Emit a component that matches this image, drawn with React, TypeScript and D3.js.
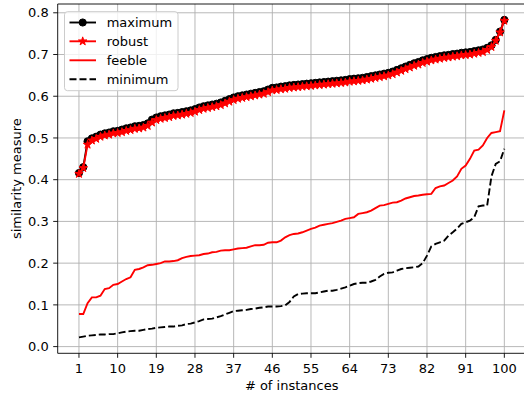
import React from 'react';
import * as d3 from 'd3';

const instances: number[] = d3.range(1, 101);
const xTicks = [1, 10, 19, 28, 37, 46, 55, 64, 73, 82, 91, 100];
const yTicks = [0, 0.1, 0.2, 0.3, 0.4, 0.5, 0.6, 0.7, 0.8];
const yTickLabels = ['0.0', '0.1', '0.2', '0.3', '0.4', '0.5', '0.6', '0.7', '0.8'];

const maximum = [
  0.416, 0.430, 0.492, 0.499, 0.503, 0.508, 0.511, 0.513, 0.516, 0.517,
  0.520, 0.523, 0.525, 0.528, 0.529, 0.531, 0.535, 0.544, 0.549, 0.552,
  0.554, 0.556, 0.559, 0.560, 0.562, 0.564, 0.566, 0.569, 0.573, 0.576,
  0.578, 0.580, 0.582, 0.585, 0.589, 0.593, 0.597, 0.600, 0.602, 0.604,
  0.606, 0.608, 0.610, 0.612, 0.616, 0.620, 0.621, 0.623, 0.624, 0.626,
  0.627, 0.628, 0.629, 0.630, 0.631, 0.632, 0.633, 0.634, 0.635, 0.636,
  0.637, 0.638, 0.639, 0.641, 0.642, 0.643, 0.644, 0.646, 0.648, 0.650,
  0.652, 0.654, 0.656, 0.659, 0.663, 0.667, 0.671, 0.675, 0.679, 0.682,
  0.686, 0.689, 0.692, 0.694, 0.696, 0.698, 0.699, 0.701, 0.702, 0.704,
  0.705, 0.706, 0.708, 0.710, 0.712, 0.716, 0.722, 0.735, 0.755, 0.783,
];

const robust = [
  0.414, 0.428, 0.484, 0.494, 0.498, 0.503, 0.506, 0.508, 0.511, 0.512,
  0.514, 0.517, 0.519, 0.522, 0.523, 0.525, 0.529, 0.537, 0.543, 0.546,
  0.548, 0.550, 0.553, 0.554, 0.556, 0.558, 0.560, 0.563, 0.567, 0.570,
  0.572, 0.574, 0.576, 0.579, 0.583, 0.587, 0.591, 0.594, 0.596, 0.598,
  0.600, 0.602, 0.604, 0.606, 0.610, 0.614, 0.615, 0.617, 0.618, 0.620,
  0.621, 0.622, 0.623, 0.624, 0.625, 0.626, 0.627, 0.628, 0.629, 0.630,
  0.631, 0.632, 0.633, 0.635, 0.636, 0.637, 0.638, 0.640, 0.642, 0.644,
  0.646, 0.648, 0.650, 0.653, 0.657, 0.661, 0.665, 0.669, 0.673, 0.676,
  0.680, 0.683, 0.686, 0.688, 0.690, 0.692, 0.693, 0.695, 0.696, 0.698,
  0.699, 0.700, 0.702, 0.704, 0.706, 0.711, 0.718, 0.733, 0.753, 0.781,
];

const feeble = [
  0.078, 0.078, 0.104, 0.118, 0.118, 0.122, 0.138, 0.140, 0.148, 0.150,
  0.156, 0.162, 0.166, 0.184, 0.186, 0.190, 0.195, 0.196, 0.198, 0.200,
  0.204, 0.204, 0.205, 0.207, 0.212, 0.215, 0.217, 0.218, 0.219, 0.222,
  0.223, 0.226, 0.227, 0.230, 0.231, 0.231, 0.233, 0.235, 0.236, 0.237,
  0.240, 0.243, 0.243, 0.244, 0.249, 0.250, 0.250, 0.254, 0.262, 0.267,
  0.270, 0.271, 0.274, 0.278, 0.282, 0.285, 0.290, 0.292, 0.294, 0.296,
  0.299, 0.302, 0.306, 0.308, 0.310, 0.318, 0.320, 0.322, 0.326, 0.332,
  0.338, 0.339, 0.342, 0.345, 0.346, 0.350, 0.355, 0.358, 0.361, 0.362,
  0.364, 0.365, 0.366, 0.380, 0.384, 0.386, 0.392, 0.398, 0.408, 0.426,
  0.434, 0.450, 0.470, 0.472, 0.482, 0.500, 0.512, 0.514, 0.516, 0.566,
];

const minimum = [
  0.022, 0.024, 0.026, 0.027, 0.028, 0.029, 0.029, 0.030, 0.030, 0.032,
  0.034, 0.036, 0.037, 0.038, 0.038, 0.040, 0.042, 0.043, 0.045, 0.046,
  0.047, 0.048, 0.048, 0.050, 0.051, 0.054, 0.055, 0.058, 0.061, 0.065,
  0.066, 0.067, 0.070, 0.073, 0.077, 0.081, 0.085, 0.086, 0.087, 0.088,
  0.090, 0.091, 0.093, 0.094, 0.096, 0.096, 0.096, 0.097, 0.099, 0.107,
  0.120, 0.126, 0.127, 0.128, 0.128, 0.128, 0.130, 0.132, 0.134, 0.134,
  0.136, 0.139, 0.142, 0.146, 0.150, 0.152, 0.153, 0.153, 0.156, 0.160,
  0.168, 0.174, 0.177, 0.178, 0.182, 0.186, 0.188, 0.189, 0.190, 0.192,
  0.200, 0.218, 0.240, 0.246, 0.250, 0.254, 0.266, 0.274, 0.283, 0.294,
  0.298, 0.302, 0.310, 0.336, 0.338, 0.338, 0.408, 0.438, 0.444, 0.474,
];

const W = 524;
const H = 395;
const M = { left: 57.7, right: 525.6, top: 4, bottom: 353.3 };
const FONT = "'DejaVu Sans', sans-serif";
const FS = 13;

export default function App() {
  const allVals = [...maximum, ...robust, ...feeble, ...minimum];
  const [ymin, ymax] = d3.extent(allVals) as [number, number];
  const yPad = (ymax - ymin) * 0.05;
  const xPad = (100 - 1) * 0.05;

  const x = d3.scaleLinear().domain([1 - xPad, 100 + xPad]).range([M.left, M.right]);
  const y = d3.scaleLinear().domain([ymin - yPad, ymax + yPad]).range([M.bottom, M.top]);

  const line = (vals: number[]) =>
    d3.line<number>().x((_, i) => x(instances[i])).y((d) => y(d))(vals) || '';

  const circle = d3.symbol(d3.symbolCircle, Math.PI * 3.6 * 3.6)() || '';
  const star = d3.symbol(d3.symbolStar, 22)() || '';

  const lw = 1.9;

  const legendItems = [
    { label: 'maximum', color: '#000000', dash: '', marker: 'circle' },
    { label: 'robust', color: '#ff0000', dash: '', marker: 'star' },
    { label: 'feeble', color: '#ff0000', dash: '', marker: '' },
    { label: 'minimum', color: '#000000', dash: '7,3', marker: '' },
  ];
  const legRowY = [22.5, 41.3, 60.3, 79.2];

  return (
    <svg
      width={W}
      height={H}
      style={{ position: 'absolute', left: 0, top: 0, background: '#ffffff' }}
      fontFamily={FONT}
    >
      <rect x={0} y={0} width={W} height={H} fill="#ffffff" />
      <defs>
        <clipPath id="plotclip">
          <rect x={M.left} y={M.top} width={M.right - M.left} height={M.bottom - M.top} />
        </clipPath>
      </defs>
      {/* grid */}
      <g stroke="#b0b0b0" strokeWidth={0.9}>
        {xTicks.map((t) => (
          <line key={'gx' + t} x1={x(t)} x2={x(t)} y1={M.top} y2={M.bottom} />
        ))}
        {yTicks.map((t) => (
          <line key={'gy' + t} x1={M.left} x2={M.right} y1={y(t)} y2={y(t)} />
        ))}
      </g>
      {/* series */}
      <g clipPath="url(#plotclip)">
        <path d={line(maximum)} fill="none" stroke="#000000" strokeWidth={lw} />
        {maximum.map((v, i) => (
          <path key={'mc' + i} d={circle} transform={`translate(${x(instances[i])},${y(v)})`} fill="#000000" stroke="#000000" strokeWidth={1} />
        ))}
        <path d={line(robust)} fill="none" stroke="#ff0000" strokeWidth={lw} />
        {robust.map((v, i) => (
          <path key={'rs' + i} d={star} transform={`translate(${x(instances[i])},${y(v)})`} fill="#ff0000" stroke="#ff0000" strokeWidth={1} />
        ))}
        <path d={line(feeble)} fill="none" stroke="#ff0000" strokeWidth={lw} />
        <path d={line(minimum)} fill="none" stroke="#000000" strokeWidth={lw} strokeDasharray="7,3" />
      </g>
      {/* spines */}
      <g stroke="#000000" strokeWidth={0.9} fill="none">
        <line x1={M.left} x2={M.left} y1={M.top} y2={M.bottom} />
        <line x1={M.left} x2={M.right} y1={M.bottom} y2={M.bottom} />
        <line x1={M.left} x2={M.right} y1={M.top} y2={M.top} />
        <line x1={M.right} x2={M.right} y1={M.top} y2={M.bottom} />
      </g>
      {/* x ticks */}
      <g>
        {xTicks.map((t) => (
          <g key={'xt' + t}>
            <line x1={x(t)} x2={x(t)} y1={M.bottom} y2={M.bottom + 4.5} stroke="#000" strokeWidth={0.9} />
            <text x={x(t)} y={372.7} textAnchor="middle" fontSize={FS} fill="#000">
              {t}
            </text>
          </g>
        ))}
      </g>
      {/* y ticks */}
      <g>
        {yTicks.map((t, i) => (
          <g key={'yt' + t}>
            <line x1={M.left - 4.5} x2={M.left} y1={y(t)} y2={y(t)} stroke="#000" strokeWidth={0.9} />
            <text x={M.left - 9} y={y(t) + 4.7} textAnchor="end" fontSize={FS} fill="#000">
              {yTickLabels[i]}
            </text>
          </g>
        ))}
      </g>
      {/* axis labels */}
      <text x={(M.left + M.right) / 2} y={389.5} textAnchor="middle" fontSize={FS} fill="#000">
        # of instances
      </text>
      <text
        transform={`translate(20.5,${(M.top + M.bottom) / 2}) rotate(-90)`}
        textAnchor="middle"
        fontSize={FS}
        fill="#000"
      >
        similarity measure
      </text>
      {/* legend */}
      <g>
        <rect x={64.5} y={11.7} width={113.5} height={79} rx={3} ry={3} fill="#ffffff" fillOpacity={0.8} stroke="#cccccc" strokeWidth={1} />
        {legendItems.map((it, i) => (
          <g key={'lg' + i}>
            <line x1={69.5} x2={96} y1={legRowY[i]} y2={legRowY[i]} stroke={it.color} strokeWidth={lw} strokeDasharray={it.dash || undefined} />
            {it.marker === 'circle' && (
              <path d={circle} transform={`translate(${82.7},${legRowY[i]})`} fill="#000" stroke="#000" strokeWidth={1} />
            )}
            {it.marker === 'star' && (
              <path d={star} transform={`translate(${82.7},${legRowY[i]})`} fill="#ff0000" stroke="#ff0000" strokeWidth={1} />
            )}
            <text x={106.7} y={legRowY[i] + 4.7} fontSize={FS} fill="#000">
              {it.label}
            </text>
          </g>
        ))}
      </g>
    </svg>
  );
}
